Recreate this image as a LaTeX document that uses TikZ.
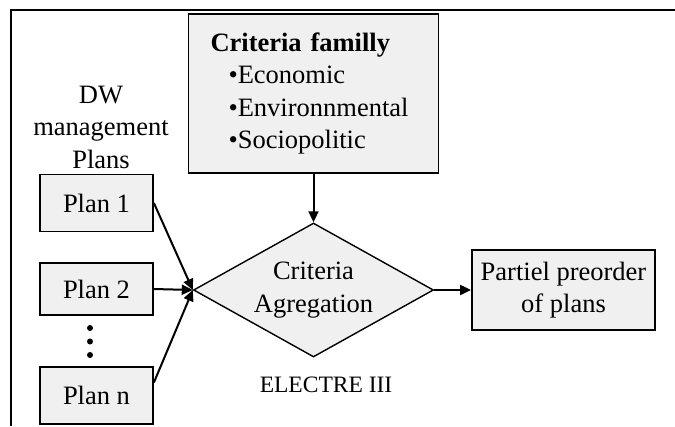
\documentclass[tikz,border=0pt]{standalone}
\usepackage{fontspec}
\setmainfont{Liberation Serif}
\usetikzlibrary{shapes.geometric,arrows.meta}
\definecolor{boxfill}{RGB}{240,240,240}
\begin{document}
\begin{tikzpicture}[x=1pt,y=-1pt,
  every node/.style={font=\fontsize{26.5}{32.5}\selectfont},
  box/.style={draw=black, line width=1.8pt, fill=boxfill, inner sep=0pt},
  conn/.style={line width=2pt, -{Triangle[length=11pt,width=10pt]}},
  frameline/.style={line width=2.2pt},
  dotmark/.style={circle, fill=black, inner sep=0pt, minimum size=6pt},
]
\useasboundingbox (0,0) rectangle (675,426);
\draw[frameline] (675,10) -- (11,10) -- (11,426);

\node[box, minimum width=250pt, minimum height=159pt, text width=206pt, align=left] (crit) at (313.5,93.5)
  {\textbf{Criteria familly}\\\hspace*{18pt}\textbullet Economic\\\hspace*{18pt}\textbullet Environnmental\\\hspace*{18pt}\textbullet Sociopolitic};

\node[align=center] (plans) at (101,127) {DW\\management\\Plans};

\node[box, minimum width=113pt, minimum height=57pt] (p1) at (96.5,203) {Plan 1};
\node[box, minimum width=113pt, minimum height=52pt] (p2) at (96.5,289) {Plan 2};
\node[box, minimum width=113pt, minimum height=57pt] (pn) at (96.5,395.5) {Plan n};

\node[dotmark] (d1) at (90,328) {};
\node[dotmark] (d2) at (90,341.5) {};
\node[dotmark] (d3) at (90,355) {};

\node[draw=black, diamond, aspect=1.79, fill=boxfill, line width=1.4pt, minimum width=240pt, minimum height=134pt, inner sep=0pt, align=center] (agg) at (313.5,290) {\raisebox{-3pt}{Criteria}\\\raisebox{-3pt}{Agregation}};

\node[font=\fontsize{23.5}{28}\selectfont, anchor=base] (el) at (326,392) {ELECTRE III};

\node[box, minimum width=183pt, minimum height=80pt, align=center] (po) at (563.5,290) {Partiel preorder\\of plans};

\draw[conn] (crit.south) -- (agg.north);
\draw[conn] (p1.east) -- (agg.west);
\draw[conn] (p2.east) -- (agg.west);
\draw[conn] ([yshift=13pt]pn.east) -- (agg.west);
\draw[conn] (agg.east) -- (po.west);
\end{tikzpicture}
\end{document}
